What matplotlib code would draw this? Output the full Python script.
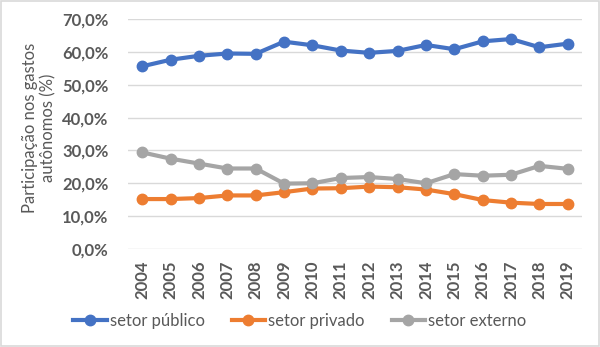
import numpy as np
import matplotlib.pyplot as plt
from matplotlib.ticker import FuncFormatter

years = [str(y) for y in range(2004, 2020)]
setor_publico = [55.6, 57.6, 58.8, 59.5, 59.4, 63.1, 62.0, 60.4, 59.7, 60.3, 62.1, 60.8, 63.2, 63.9, 61.4, 62.5]
setor_privado = [15.2, 15.2, 15.5, 16.3, 16.3, 17.3, 18.4, 18.5, 19.0, 18.8, 18.1, 16.7, 14.9, 14.1, 13.7, 13.7]
setor_externo = [29.4, 27.5, 26.0, 24.5, 24.5, 19.9, 20.0, 21.6, 21.9, 21.3, 20.0, 22.8, 22.3, 22.6, 25.3, 24.4]

plt.rcParams['font.family'] = ['Lato', 'DejaVu Sans']
txt = '#595959'

fig = plt.figure(figsize=(6.0, 3.47), dpi=100)
ax = fig.add_axes([128 / 600, 1 - 249 / 347, (582 - 128) / 600, (249 - 19) / 347])

x = np.arange(len(years))
series = [
    (setor_publico, '#4472C4', 'setor público'),
    (setor_privado, '#ED7D31', 'setor privado'),
    (setor_externo, '#A5A5A5', 'setor externo'),
]
for vals, col, lab in series:
    ax.plot(x, vals, color=col, lw=3, marker='o', ms=7.5, label=lab)

ax.set_xlim(-0.5, len(years) - 0.5)
ax.set_ylim(0, 70)
ax.set_yticks(np.arange(0, 71, 10))
ax.yaxis.set_major_formatter(FuncFormatter(lambda v, p: f'{v:.1f}%'.replace('.', ',')))
ax.set_xticks(x)
ax.set_xticklabels(years, rotation=90)
ax.grid(axis='y', color='#D9D9D9', lw=1)
ax.set_axisbelow(True)
for s in ax.spines.values():
    s.set_visible(False)
ax.tick_params(length=0, colors=txt, labelsize=12)
for t in ax.get_xticklabels() + ax.get_yticklabels():
    t.set_fontweight('bold')
ax.tick_params(axis='y', pad=14)
ax.tick_params(axis='x', pad=8)

fig.text(39 / 600, 1 - 128 / 347, 'Participação nos gastos\nautônomos (%)', rotation=90,
         ha='center', va='center', color=txt, fontsize=12, linespacing=1.2)

fig.legend(loc='center', bbox_to_anchor=(0.5, 1 - 321 / 347), ncol=3, frameon=False,
           fontsize=12, labelcolor=txt, handlelength=2.0, handletextpad=0.2, columnspacing=1.6)

fig.patches.append(plt.Rectangle((0.002, 0.003), 0.996, 0.994, transform=fig.transFigure,
                                 fill=False, edgecolor='#D9D9D9', lw=1.2))

fig.savefig('out.png', dpi=100)
